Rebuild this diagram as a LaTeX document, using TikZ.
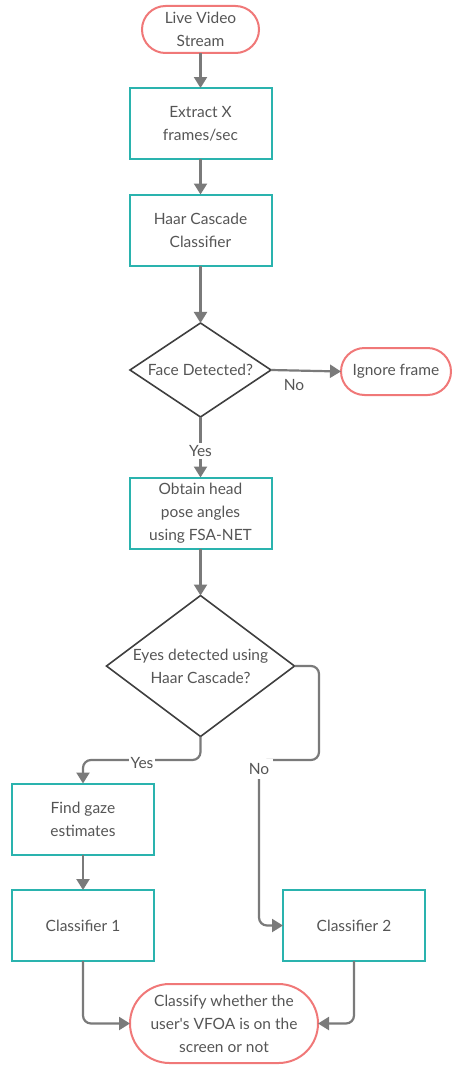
\documentclass[tikz,border=0pt]{standalone}
\usepackage{fontspec}
\setmainfont{Lato}
\usetikzlibrary{shapes.geometric,arrows.meta}
\definecolor{teal1}{HTML}{2AB3AE}
\definecolor{red1}{HTML}{F07878}
\definecolor{arrgray}{HTML}{7A7A7A}
\definecolor{txtgray}{HTML}{555555}
\definecolor{dgray}{HTML}{404040}
\begin{document}
\begin{tikzpicture}[x=1pt,y=-1pt,
  every node/.style={font=\fontsize{15.5}{23}\selectfont, text=txtgray, align=center, outer sep=0pt, inner sep=0pt},
  procbox/.style={draw=teal1, line width=2pt, minimum width=142pt, minimum height=71pt},
  term/.style={draw=red1, line width=2pt, rounded corners=#1},
  dec/.style={diamond, draw=dgray, line width=1.6pt},
  arr/.style={draw=arrgray, line width=2.2pt, -{Triangle[width=13pt,length=11pt]}},
  lbl/.style={fill=white, inner sep=2pt}
]
\useasboundingbox (0,0) rectangle (452,1065);
% terminals
\node[term=23.5pt, minimum width=117pt, minimum height=47pt] (live) at (200.5,29.5) {Live Video\\Stream};
\node[procbox] (extract) at (200.5,123.5) {Extract X\\frames/sec};
\node[procbox] (haar) at (200.5,230) {Haar Cascade\\Classifier};
\node[dec, minimum width=141pt, minimum height=94pt] (face) at (200.5,370) {};
\node at (face) {Face Detected?};
\node[term=23.5pt, minimum width=110pt, minimum height=47pt] (ignore) at (396,371.5) {Ignore frame};
\node[procbox] (obtain) at (200.5,513) {Obtain head\\pose angles\\using FSA-NET};
\node[dec, minimum width=188pt, minimum height=141pt] (eyes) at (200.5,666) {};
\node at (eyes) {Eyes detected using\\Haar Cascade?};
\node[procbox] (find) at (83,819) {Find gaze\\estimates};
\node[procbox] (cl1) at (83,925.5) {Classifier 1};
\node[procbox] (cl2) at (354,925.5) {Classifier 2};
\node[term=39.5pt, minimum width=188pt, minimum height=79pt] (final) at (224,1023.5) {Classify whether the\\user\textquotesingle s VFOA is on the\\screen or not};
% connectors
\draw[arr] (live) -- (extract);
\draw[arr] (extract) -- (haar);
\draw[arr] (haar) -- (face);
\draw[arr] (face.east) -- (ignore.west);
\node (no1) at (294,385) {No};
\draw[arr] (face.south) -- (obtain.north);
\node[lbl] (yes1) at (200.5,451) {Yes};
\draw[arr] (obtain) -- (eyes);
\coordinate (ycorner) at (83,760);
\draw[arr, rounded corners=8pt] (eyes.south) |- (ycorner) -- (find.north);
\node[lbl] (yes2) at (142,763) {Yes};
\coordinate (ncorner1) at (319,760);
\coordinate (ncorner2) at (259,760);
\draw[arr, rounded corners=8pt] (eyes.east) -| (ncorner1) -- (ncorner2) |- (cl2.west);
\node[lbl, inner sep=4pt] (no2) at (259,769) {No};
\draw[arr] (find) -- (cl1);
\draw[arr, rounded corners=8pt] (cl1.south) |- (final.west);
\draw[arr, rounded corners=8pt] (cl2.south) |- (final.east);
\end{tikzpicture}
\end{document}
